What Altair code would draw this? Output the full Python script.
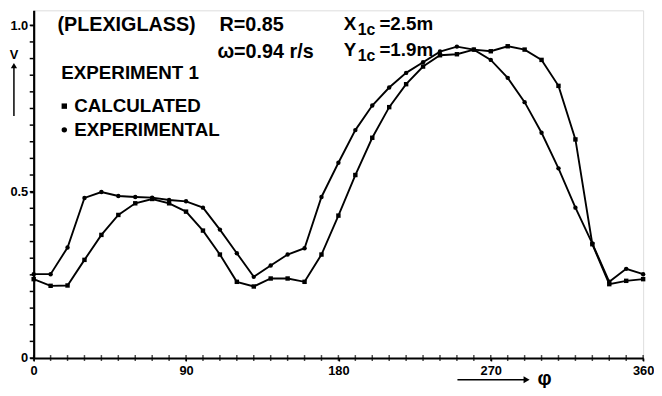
import altair as alt
import pandas as pd

phi = list(range(0, 361, 10))

# lagging series (smooth)
calculated = [0.237, 0.217, 0.218, 0.295, 0.370, 0.430, 0.465, 0.478, 0.465, 0.440,
              0.383, 0.311, 0.229, 0.215, 0.239, 0.239, 0.229, 0.311, 0.428, 0.550,
              0.662, 0.754, 0.823, 0.876, 0.910, 0.913, 0.927, 0.922, 0.937, 0.927,
              0.896, 0.818, 0.657, 0.342, 0.222, 0.232, 0.237]

# leading series
experimental = [0.252, 0.252, 0.332, 0.481, 0.499, 0.487, 0.484, 0.482, 0.475, 0.471,
                0.452, 0.386, 0.315, 0.244, 0.278, 0.311, 0.330, 0.484, 0.587, 0.685,
                0.759, 0.813, 0.857, 0.889, 0.921, 0.936, 0.927, 0.896, 0.842, 0.769,
                0.677, 0.570, 0.452, 0.344, 0.229, 0.268, 0.252]

series_names = ["CALCULATED", "EXPERIMENTAL"]
x_minor = list(range(0, 361, 10))
x_major = [0, 90, 180, 270, 360]
y_minor = [round(i * 0.05, 2) for i in range(0, 21)]
y_major = [0, 0.5, 1.0]

rows = []
for p, c, e in zip(phi, calculated, experimental):
    rows.append({"phi": p, "v": c, "series": series_names[0]})
    rows.append({"phi": p, "v": e, "series": series_names[1]})
df = pd.DataFrame(rows)

FONT = "Liberation Sans"
xs = alt.Scale(domain=[0, 360], nice=False)
ys = alt.Scale(domain=[0, 1.045], nice=False)

common = dict(title=None, grid=False, labelFont=FONT, labelFontSize=13,
              labelFontWeight="bold", labelColor="black", labelFlush=False,
              labelOverlap=False, domainColor="black", domainWidth=2.2,
              tickColor="black", tickWidth=1.5)

x_axis = alt.Axis(values=x_major, labelPadding=4, tickSize=3,
                  labelExpr="datum.value", **common)
y_axis = alt.Axis(values=y_major, labelPadding=2, tickSize=4,
                  labelExpr="datum.value == 0 ? '0' : format(datum.value, '.1f')", **common)

base = alt.Chart(df)
lines = base.mark_line(color="black", strokeWidth=1.9).encode(
    x=alt.X("phi:Q", scale=xs, axis=x_axis),
    y=alt.Y("v:Q", scale=ys, axis=y_axis),
    detail="series:N")
points = base.mark_point(filled=True, color="black", size=20, opacity=1).encode(
    x=alt.X("phi:Q", scale=xs, axis=x_axis),
    y=alt.Y("v:Q", scale=ys, axis=y_axis),
    shape=alt.Shape("series:N", scale=alt.Scale(domain=series_names, range=["square", "circle"]), legend=None))

# minor ticks
xt = pd.DataFrame({"t": x_minor})
yt = pd.DataFrame({"t": y_minor})
x_ticks = alt.Chart(xt).mark_tick(color="black", thickness=1.5, size=6, orient="vertical").encode(
    x=alt.X("t:Q", scale=xs, axis=x_axis), y=alt.value(352))
y_ticks = alt.Chart(yt).mark_rule(color="black", strokeWidth=1.5).encode(
    y=alt.Y("t:Q", scale=ys, axis=y_axis), x=alt.value(-4), x2=alt.value(0))

def txt(s, x, y, size=19, align="left"):
    return alt.Chart(pd.DataFrame({"t": [s]})).mark_text(
        font=FONT, fontSize=size, fontWeight="bold", color="black",
        align=align, baseline="middle").encode(
        text="t:N", x=alt.value(x), y=alt.value(y))

texts = [
    txt("(PLEXIGLASS)", 24, 15, 20),
    txt("R=0.85", 188, 15, 20),
    txt("ω=0.94 r/s", 186, 42, 20),
    txt("X", 314, 14, 19),
    txt("1c", 328, 20, 16),
    txt("=2.5m", 350, 14, 19),
    txt("Y", 314, 40, 19),
    txt("1c", 328, 46, 16),
    txt("=1.9m", 350, 40, 19),
    txt("EXPERIMENT 1", 28, 64),
    txt("CALCULATED", 41, 97),
    txt("EXPERIMENTAL", 41, 121),
    txt("V", -20, 45, 13, "center"),
    txt("φ", 510, 373, 20),
]

def mk(shape, x, y, size):
    return alt.Chart(pd.DataFrame({"a": [0]})).mark_point(
        shape=shape, filled=True, color="black", size=size, opacity=1).encode(
        x=alt.value(x), y=alt.value(y))

markers = [
    mk("square", 31, 97, 30),
    mk("circle", 31, 121, 30),
    mk("triangle-up", -20, 56, 40),
    mk("triangle-right", 499, 374, 50),
]

arrows = [
    alt.Chart(pd.DataFrame({"a": [0]})).mark_rule(color="black", strokeWidth=1.5).encode(
        x=alt.value(-20), y=alt.value(58), y2=alt.value(107)),
    alt.Chart(pd.DataFrame({"a": [0]})).mark_rule(color="black", strokeWidth=1.5).encode(
        x=alt.value(429), x2=alt.value(497), y=alt.value(374)),
]

chart = alt.layer(lines, points, x_ticks, y_ticks, *texts, *markers, *arrows).properties(
    width=617, height=352,
    autosize=alt.AutoSizeParams(type="none"),
    padding={"left": 26, "top": 0, "right": 11, "bottom": 28},
).configure_view(stroke=None).configure(background="white")

chart.save("out.html", embed_options={"renderer": "svg", "actions": False})
